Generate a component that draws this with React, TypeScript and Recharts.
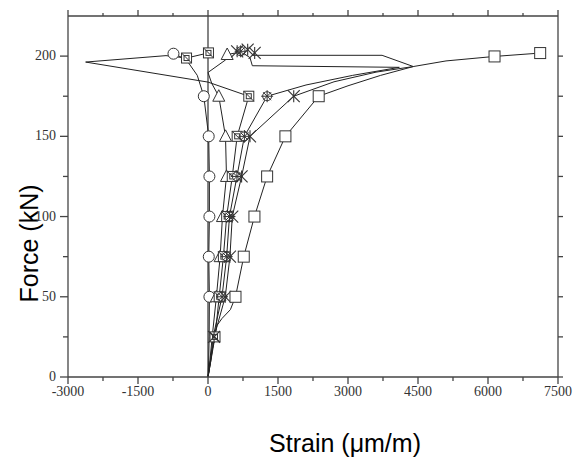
import React from 'react';
import { ComposedChart, Line, Scatter, XAxis, YAxis, ReferenceLine, Label } from 'recharts';

// ---------- axis ticks ----------
const xTicks = [-3000, -2250, -1500, -750, 0, 750, 1500, 2250, 3000, 3750, 4500, 5250, 6000, 6750, 7500];
const xMajor = [-3000, -1500, 0, 1500, 3000, 4500, 6000, 7500];
const yTicks = [0, 25, 50, 75, 100, 125, 150, 175, 200];
const yMajor = [0, 50, 100, 150, 200];
const xDomain = [-3000, 7500];
const yDomain = [0, 225];

// ---------- series (strain µm/m, force kN) ----------
const circleLine = [
  { x: 0, y: 0 }, { x: 15, y: 10 }, { x: 25, y: 25 }, { x: 30, y: 50 }, { x: 17, y: 75 },
  { x: 30, y: 100 }, { x: 30, y: 125 }, { x: 15, y: 150 }, { x: -90, y: 175 },
  { x: -230, y: 188 }, { x: -470, y: 198 }, { x: -740, y: 201.5 },
];
const circleMarks = [
  { x: 30, y: 50 }, { x: 17, y: 75 }, { x: 30, y: 100 }, { x: 30, y: 125 },
  { x: 15, y: 150 }, { x: -90, y: 175 }, { x: -740, y: 201.5 },
];

const triangleLine = [
  { x: 0, y: 0 }, { x: 40, y: 10 }, { x: 90, y: 25 }, { x: 180, y: 50 }, { x: 260, y: 75 },
  { x: 310, y: 100 }, { x: 396, y: 125 }, { x: 375, y: 150 }, { x: 231, y: 175 },
  { x: 80, y: 183 }, { x: 0, y: 189.8 }, { x: 380, y: 197.7 }, { x: 411, y: 201 }, { x: 600, y: 202 },
];
const triangleMarks = [
  { x: 180, y: 50 }, { x: 260, y: 75 }, { x: 310, y: 100 }, { x: 396, y: 125 },
  { x: 375, y: 150 }, { x: 231, y: 175 }, { x: 411, y: 201 },
];

const boxedLine = [
  { x: 0, y: 0 }, { x: 60, y: 10 }, { x: 150, y: 25 }, { x: 240, y: 50 }, { x: 330, y: 75 },
  { x: 400, y: 100 }, { x: 520, y: 125 }, { x: 625, y: 150 }, { x: 874, y: 175 },
  { x: 0, y: 183.8 }, { x: -2622, y: 196.3 }, { x: -900, y: 200.3 }, { x: -460, y: 198.8 }, { x: 10, y: 202 },
];
const boxedMarks = [
  { x: 150, y: 25 }, { x: 240, y: 50 }, { x: 330, y: 75 }, { x: 400, y: 100 }, { x: 520, y: 125 },
  { x: 625, y: 150 }, { x: 874, y: 175 }, { x: -460, y: 198.8 }, { x: 10, y: 202 },
];

const starLine = [
  { x: 0, y: 0 }, { x: 50, y: 10 }, { x: 110, y: 25 }, { x: 300, y: 50 }, { x: 400, y: 75 },
  { x: 460, y: 100 }, { x: 620, y: 125 }, { x: 780, y: 150 }, { x: 1267, y: 175 },
  { x: 2100, y: 182 }, { x: 3100, y: 188 }, { x: 4100, y: 193 }, { x: 950, y: 194 },
  { x: 900, y: 199 }, { x: 700, y: 203 },
];
const starMarks = [
  { x: 300, y: 50 }, { x: 400, y: 75 }, { x: 460, y: 100 }, { x: 620, y: 125 },
  { x: 780, y: 150 }, { x: 1267, y: 175 }, { x: 700, y: 203 },
];

const crossLine = [
  { x: 0, y: 0 }, { x: 60, y: 10 }, { x: 130, y: 25 }, { x: 370, y: 50 }, { x: 470, y: 75 },
  { x: 520, y: 100 }, { x: 720, y: 125 }, { x: 900, y: 150 }, { x: 1837, y: 175 },
  { x: 2700, y: 184 }, { x: 3600, y: 190 }, { x: 4400, y: 193.5 }, { x: 3730, y: 200.5 },
  { x: 950, y: 200.5 }, { x: 1000, y: 202 },
];
const crossMarks = [
  { x: 130, y: 25 }, { x: 370, y: 50 }, { x: 470, y: 75 }, { x: 520, y: 100 }, { x: 720, y: 125 },
  { x: 900, y: 150 }, { x: 1837, y: 175 }, { x: 625, y: 203 }, { x: 850, y: 204 }, { x: 1000, y: 202 },
];

const squareLine = [
  { x: 0, y: 0 }, { x: 80, y: 15 }, { x: 190, y: 32 }, { x: 300, y: 36.5 }, { x: 480, y: 42 },
  { x: 589, y: 50 }, { x: 766, y: 75 }, { x: 995, y: 100 }, { x: 1267, y: 125 }, { x: 1659, y: 150 },
  { x: 2372, y: 175 }, { x: 3000, y: 181.5 }, { x: 3700, y: 188 }, { x: 4400, y: 193.5 },
  { x: 5100, y: 197 }, { x: 6140, y: 199.8 }, { x: 7118, y: 201.9 },
];
const squareMarks = [
  { x: 589, y: 50 }, { x: 766, y: 75 }, { x: 995, y: 100 }, { x: 1267, y: 125 },
  { x: 1659, y: 150 }, { x: 2372, y: 175 }, { x: 6140, y: 199.8 }, { x: 7118, y: 201.9 },
];

// ---------- styling ----------
const LINE = '#222';
const MARK = '#333';
const AXIS = '#444';
const SERIF = "'Liberation Serif', 'Times New Roman', serif";
const SANS = "'Liberation Sans', Arial, sans-serif";

const shapes: Record<string, (p: any) => React.ReactElement> = {
  circle: ({ cx, cy }) => <circle cx={cx} cy={cy} r={5.5} fill="#fff" stroke={MARK} strokeWidth={1} />,
  triangle: ({ cx, cy }) => (
    <polygon points={`${cx},${cy - 6.5} ${cx - 6},${cy + 5} ${cx + 6},${cy + 5}`} fill="#fff" stroke={MARK} strokeWidth={1} />
  ),
  square: ({ cx, cy }) => <rect x={cx - 5.5} y={cy - 5.5} width={11} height={11} fill="#fff" stroke={MARK} strokeWidth={1} />,
  boxed: ({ cx, cy }) => (
    <g stroke={MARK} strokeWidth={1}>
      <rect x={cx - 5} y={cy - 5} width={10} height={10} fill="#fff" />
      <rect x={cx - 2.5} y={cy - 2.5} width={5} height={5} fill="none" />
      <line x1={cx - 5} y1={cy - 5} x2={cx + 5} y2={cy + 5} />
    </g>
  ),
  star: ({ cx, cy }) => (
    <g stroke={MARK} strokeWidth={1}>
      <circle cx={cx} cy={cy} r={4.5} fill="#fff" />
      <line x1={cx - 6} y1={cy} x2={cx + 6} y2={cy} />
      <line x1={cx} y1={cy - 6} x2={cx} y2={cy + 6} />
      <line x1={cx - 4} y1={cy - 4} x2={cx + 4} y2={cy + 4} />
      <line x1={cx - 4} y1={cy + 4} x2={cx + 4} y2={cy - 4} />
    </g>
  ),
  cross: ({ cx, cy }) => (
    <g stroke={MARK} strokeWidth={1.1}>
      <line x1={cx - 6} y1={cy - 6} x2={cx + 6} y2={cy + 6} />
      <line x1={cx - 6} y1={cy + 6} x2={cx + 6} y2={cy - 6} />
      <line x1={cx} y1={cy - 6} x2={cx} y2={cy + 6} />
    </g>
  ),
};

const series = [
  { name: 'circle', line: circleLine, marks: circleMarks },
  { name: 'triangle', line: triangleLine, marks: triangleMarks },
  { name: 'boxed', line: boxedLine, marks: boxedMarks },
  { name: 'star', line: starLine, marks: starMarks },
  { name: 'cross', line: crossLine, marks: crossMarks },
  { name: 'square', line: squareLine, marks: squareMarks },
];

// ---------- custom ticks ----------
const BottomTick = (p: any) => {
  const v = p.payload.value;
  const major = xMajor.includes(v);
  return (
    <g>
      <line x1={p.x} y1={p.y} x2={p.x} y2={p.y + (major ? 7 : 4)} stroke={AXIS} strokeWidth={1.3} />
      {major && (
        <text x={p.x} y={p.y + 19} textAnchor="middle" fontFamily={SERIF} fontSize={14} fill="#333">
          {String(v)}
        </text>
      )}
    </g>
  );
};
const TopTick = (p: any) => {
  const major = xMajor.includes(p.payload.value);
  return <line x1={p.x} y1={p.y} x2={p.x} y2={p.y - (major ? 6 : 3)} stroke={AXIS} strokeWidth={1.3} />;
};
const LeftTick = (p: any) => {
  const v = p.payload.value;
  const major = yMajor.includes(v);
  return (
    <g>
      <line x1={p.x} y1={p.y} x2={p.x - (major ? 8 : 5)} y2={p.y} stroke={AXIS} strokeWidth={1.3} />
      {major && (
        <text x={p.x - 12} y={p.y + 4} textAnchor="end" fontFamily={SERIF} fontSize={14} fill="#333">
          {String(v)}
        </text>
      )}
    </g>
  );
};
const RightTick = (p: any) => (
  <line x1={p.x} y1={p.y} x2={p.x + 5} y2={p.y} stroke={AXIS} strokeWidth={1.3} />
);

const XTitle = (p: any) => {
  const vb = p.viewBox || { x: 60, y: 369, width: 490, height: 30 };
  return (
    <text x={vb.x + vb.width / 2 + 32} y={vb.y + 75} textAnchor="middle" fontFamily={SANS} fontSize={25} fill="#000">
      Strain (μm/m)
    </text>
  );
};
const YTitle = (p: any) => {
  const vb = p.viewBox || { x: 10, y: 8, width: 50, height: 361 };
  const cx = vb.x + 11;
  const cy = vb.y + vb.height / 2 + 47;
  return (
    <text x={cx} y={cy} transform={`rotate(-90 ${cx} ${cy})`} textAnchor="middle" dominantBaseline="central" fontFamily={SANS} fontSize={25} fill="#000">
      Force (kN)
    </text>
  );
};

export default function App() {
  return (
    <ComposedChart width={567} height={449} margin={{ top: 0, right: 7, bottom: 50, left: 10 }}>
      <XAxis
        xAxisId="b" type="number" dataKey="x" domain={xDomain} ticks={xTicks} interval={0}
        tickSize={0} tickMargin={0} tickLine={false} tick={BottomTick} height={30} allowDataOverflow
        axisLine={{ stroke: AXIS, strokeWidth: 1.3 }}
      >
        <Label content={XTitle} />
      </XAxis>
      <XAxis
        xAxisId="t" orientation="top" type="number" dataKey="x" domain={xDomain} ticks={xTicks} interval={0}
        tickSize={0} tickMargin={0} tickLine={false} tick={TopTick} height={8} allowDataOverflow
        axisLine={{ stroke: AXIS, strokeWidth: 1.3 }}
      />
      <YAxis
        yAxisId="l" type="number" dataKey="y" domain={yDomain} ticks={yTicks} interval={0}
        tickSize={0} tickMargin={0} tickLine={false} tick={LeftTick} width={50} allowDataOverflow
        axisLine={{ stroke: AXIS, strokeWidth: 1.3 }}
      >
        <Label content={YTitle} />
      </YAxis>
      <YAxis
        yAxisId="r" orientation="right" type="number" dataKey="y" domain={yDomain} ticks={yTicks} interval={0}
        tickSize={0} tickMargin={0} tickLine={false} tick={RightTick} width={10} allowDataOverflow
        axisLine={{ stroke: AXIS, strokeWidth: 1.3 }}
      />
      <ReferenceLine xAxisId="b" yAxisId="l" x={0} stroke="#333" strokeWidth={1.2} />
      {series.map((s) => (
        <Line
          key={s.name + '-line'} xAxisId="b" yAxisId="l" data={s.line} dataKey="y" type="linear"
          stroke={LINE} strokeWidth={1} dot={false} activeDot={false} isAnimationActive={false}
        />
      ))}
      {series.map((s) => (
        <Scatter
          key={s.name + '-marks'} xAxisId="b" yAxisId="l" data={s.marks} dataKey="y"
          shape={shapes[s.name]} isAnimationActive={false}
        />
      ))}
    </ComposedChart>
  );
}
